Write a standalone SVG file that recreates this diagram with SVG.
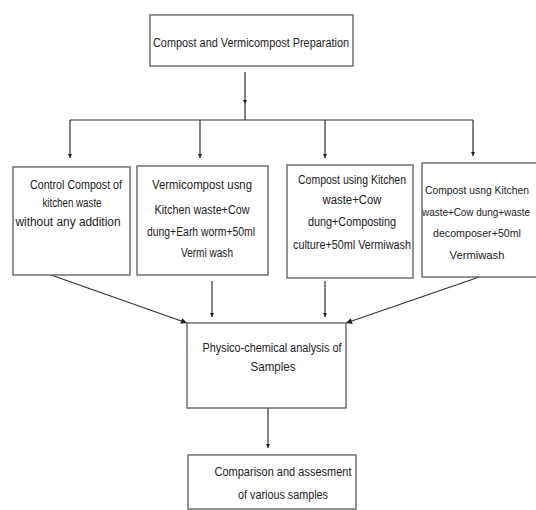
<svg xmlns="http://www.w3.org/2000/svg" width="536" height="510" viewBox="0 0 536 510">
<defs>
<style>
.box{fill:#fff;stroke:#666;stroke-width:1.4}
.t{font-family:"Liberation Sans",Arial,sans-serif;font-size:12px;fill:#222;text-anchor:middle}
.s{font-size:11px}
.xs{font-size:10.3px}
.c{fill:none;stroke:#333;stroke-width:1.2}
</style>
<marker id="ah" viewBox="0 0 10 10" refX="10" refY="5" markerWidth="4" markerHeight="9" markerUnits="userSpaceOnUse" orient="auto">
<path d="M0,0 L10,5 L0,10 z" fill="#222"/>
</marker>
<marker id="ah2" viewBox="0 0 10 10" refX="10" refY="5" markerWidth="10" markerHeight="6" markerUnits="userSpaceOnUse" orient="auto">
<path d="M0,0 L10,5 L0,10 z" fill="#222"/>
</marker>
</defs>
<rect width="536" height="510" fill="#fff"/>
<g id="connectors">
<path class="c" d="M245,72 V104 V120" marker-mid="url(#ah)"/>
<path class="c" d="M70,120 H473"/>
<path class="c" d="M70,120 V158" marker-end="url(#ah)"/>
<path class="c" d="M200,120 V158" marker-end="url(#ah)"/>
<path class="c" d="M325,120 V158" marker-end="url(#ah)"/>
<path class="c" d="M473,120 V156" marker-end="url(#ah)"/>
<path class="c" d="M51,275 L187,323" marker-end="url(#ah2)"/>
<path class="c" d="M212,281 V317" marker-end="url(#ah)"/>
<path class="c" d="M325,281 V317" marker-end="url(#ah)"/>
<path class="c" d="M485,275 L346,323" marker-end="url(#ah2)"/>
<path class="c" d="M268,408 V448" marker-end="url(#ah)"/>
</g>
<g id="n-top">
<rect class="box" x="150" y="15" width="203" height="51"/>
<text class="t" x="251" y="47" textLength="196" lengthAdjust="spacingAndGlyphs">Compost and Vermicompost Preparation</text>
</g>
<g id="n-control">
<rect class="box" x="13" y="167" width="117" height="108"/>
<text class="t" x="76" y="189" textLength="92" lengthAdjust="spacingAndGlyphs">Control Compost of</text>
<text class="t" x="72" y="207" textLength="59" lengthAdjust="spacingAndGlyphs">kitchen waste</text>
<text class="t" x="68" y="226" textLength="105" lengthAdjust="spacingAndGlyphs">without any  addition</text>
</g>
<g id="n-vermi">
<rect class="box" x="137" y="166" width="131" height="109"/>
<text class="t" x="202" y="189" textLength="100" lengthAdjust="spacingAndGlyphs">Vermicompost usng</text>
<text class="t" x="202" y="214" textLength="95" lengthAdjust="spacingAndGlyphs">Kitchen waste+Cow</text>
<text class="t" x="201" y="236" textLength="108" lengthAdjust="spacingAndGlyphs">dung+Earh worm+50ml</text>
<text class="t" x="207" y="257" textLength="52" lengthAdjust="spacingAndGlyphs">Vermi wash</text>
</g>
<g id="n-culture">
<rect class="box" x="287" y="165" width="126" height="113"/>
<text class="t" x="352" y="184" textLength="108" lengthAdjust="spacingAndGlyphs">Compost using Kitchen</text>
<text class="t" x="352" y="204" textLength="59" lengthAdjust="spacingAndGlyphs">waste+Cow</text>
<text class="t" x="352" y="226" textLength="88" lengthAdjust="spacingAndGlyphs">dung+Composting</text>
<text class="t" x="352" y="249" textLength="118" lengthAdjust="spacingAndGlyphs">culture+50ml Vermiwash</text>
</g>
<g id="n-decomposer">
<rect class="box" x="422" y="163" width="130" height="114"/>
<text class="t s" x="477" y="194" textLength="104" lengthAdjust="spacingAndGlyphs">Compost usng Kitchen</text>
<text class="t xs" x="476" y="216" textLength="108" lengthAdjust="spacingAndGlyphs">waste+Cow dung+waste</text>
<text class="t s" x="477" y="237" textLength="88" lengthAdjust="spacingAndGlyphs">decomposer+50ml</text>
<text class="t s" x="477" y="259" textLength="55" lengthAdjust="spacingAndGlyphs">Vermiwash</text>
</g>
<g id="n-analysis">
<rect class="box" x="187" y="323" width="159" height="85"/>
<text class="t" x="272" y="352" textLength="139" lengthAdjust="spacingAndGlyphs">Physico-chemical analysis of</text>
<text class="t" x="273" y="371" textLength="45" lengthAdjust="spacingAndGlyphs">Samples</text>
</g>
<g id="n-compare">
<rect class="box" x="188" y="455" width="168" height="54"/>
<text class="t" x="283" y="476" textLength="137" lengthAdjust="spacingAndGlyphs">Comparison and assesment</text>
<text class="t" x="283" y="499" textLength="90" lengthAdjust="spacingAndGlyphs">of various samples</text>
</g>
</svg>
